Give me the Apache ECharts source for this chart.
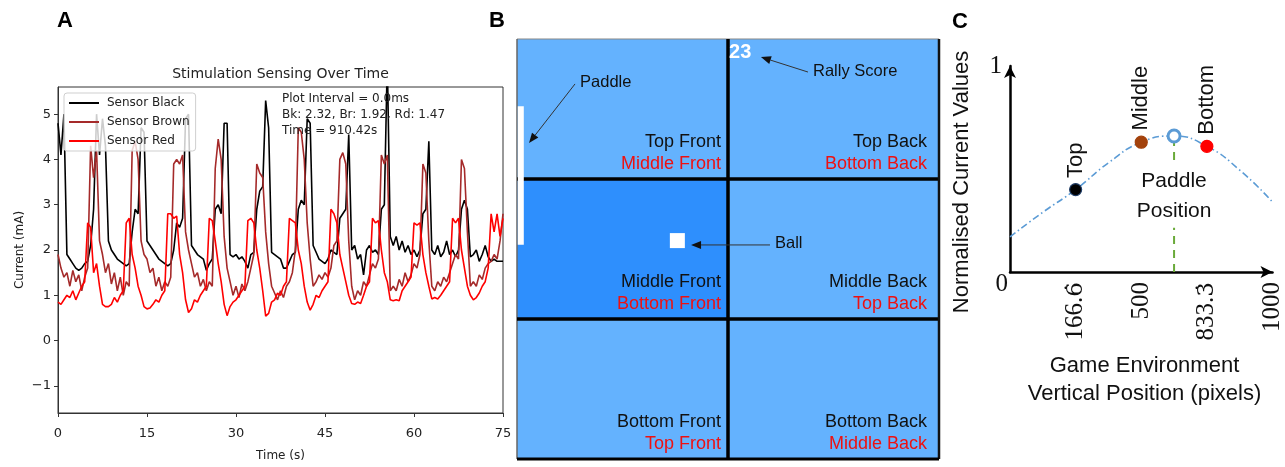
<!DOCTYPE html>
<html><head><meta charset="utf-8">
<script src="https://cdn.jsdelivr.net/npm/echarts@6/dist/echarts.min.js"></script>
<style>html,body{margin:0;padding:0;background:#fff}#c{width:1285px;height:467px}</style>
</head><body><div id="c"></div>
<script>
// ---------- Panel A data (sampled every 0.5 s, 0..75 s) ----------
const timeStep = 0.5;
const sensorBlack = [
 4.8,4.1,5.0,1.9,1.8,1.7,1.6,1.55,1.6,1.7,
 1.75,2.1,2.9,5.0,4.1,4.9,4.3,2.2,2.0,1.9,
 1.8,1.75,1.7,1.65,1.7,2.4,2.9,2.8,4.7,4.6,
 2.2,2.1,2.0,1.9,1.8,1.75,1.7,1.65,1.7,2.0,
 2.6,2.5,2.7,4.9,5.0,2.1,2.0,1.9,1.85,1.8,
 1.55,1.7,1.8,2.9,3.0,2.8,4.8,4.8,1.9,1.85,
 1.9,1.8,1.85,1.75,1.6,1.9,1.95,2.9,3.3,3.4,
 5.3,4.7,1.95,1.9,1.85,1.8,1.6,1.6,1.75,1.9,
 1.95,2.9,3.1,3.0,4.9,4.8,2.1,1.95,1.8,1.75,
 1.7,1.8,2.0,1.95,1.9,2.7,2.8,2.9,4.55,2.0,
 2.1,1.8,1.9,1.45,2.0,2.1,1.95,2.0,1.9,2.9,
 3.0,6.2,2.3,2.1,2.3,2.0,2.2,1.95,2.1,1.9,
 2.0,1.85,2.0,2.8,2.9,4.4,2.0,1.9,2.1,1.85,
 1.95,2.2,1.9,2.0,1.85,2.0,2.9,3.1,2.9,1.85,
 1.9,2.0,1.75,1.9,2.1,1.85,1.75,1.8,1.75,1.75,1.75
];
const sensorBrown = [
 1.9,1.6,1.4,1.5,1.2,1.55,1.3,1.45,1.1,1.4,
 1.6,4.3,3.6,4.2,2.2,1.9,1.5,1.7,1.25,1.5,
 1.1,1.4,1.0,1.3,1.2,4.2,4.4,4.0,2.2,1.9,
 1.8,1.5,1.6,1.2,1.4,1.1,1.3,1.2,1.4,3.9,
 4.0,3.9,4.1,2.4,2.0,1.7,1.4,1.5,1.2,1.35,
 1.1,1.3,1.2,3.8,4.45,4.0,2.3,1.6,1.3,1.0,
 1.2,0.95,1.25,1.1,1.3,1.6,1.9,3.9,3.7,3.6,
 2.4,1.7,1.2,1.05,0.9,1.1,0.95,1.2,1.3,1.5,
 2.0,4.7,4.6,4.0,2.6,1.8,1.2,1.3,1.45,1.35,
 1.5,1.4,1.6,2.1,2.2,4.0,4.15,3.9,2.2,1.2,
 0.9,1.1,1.0,1.3,1.2,1.45,1.7,1.6,1.8,4.1,
 3.9,4.1,1.1,1.2,1.1,1.35,1.2,1.5,1.3,1.45,
 1.7,1.6,1.9,3.9,3.7,2.2,1.2,1.1,1.3,1.2,
 1.4,1.3,1.5,1.7,1.9,1.8,4.0,3.8,2.4,1.2,
 1.3,1.2,1.45,1.35,1.6,1.7,1.75,1.9,1.8,2.2,2.8
];
const sensorRed = [
 0.85,0.8,0.9,1.0,0.95,1.1,0.9,1.05,1.2,1.3,
 2.6,2.5,1.5,1.7,1.2,0.8,0.75,0.75,0.8,0.95,
 0.85,1.0,1.1,2.6,2.7,1.9,1.6,1.2,1.0,0.75,
 0.7,0.72,0.8,0.9,0.85,1.0,1.1,2.8,2.8,2.7,
 2.75,1.9,1.5,0.9,0.62,0.7,0.9,0.85,1.0,1.1,
 1.2,2.7,2.65,2.2,1.7,1.3,0.8,0.55,0.75,0.85,
 0.9,1.0,1.1,1.2,2.65,2.7,2.6,2.0,1.6,1.1,
 0.54,0.6,0.85,0.9,1.05,1.0,1.2,1.3,2.7,2.65,
 2.6,2.0,1.7,1.2,0.85,0.67,0.8,1.0,0.95,1.1,
 1.2,1.3,2.9,2.8,2.6,1.9,1.6,1.3,1.0,0.82,
 0.8,0.85,0.82,1.0,1.2,1.3,2.7,2.6,2.65,2.0,
 1.5,1.3,0.9,0.88,0.9,0.88,1.1,1.2,1.3,1.4,
 2.6,2.55,2.6,1.9,1.5,1.2,0.92,0.95,0.92,1.0,
 1.1,1.2,1.3,2.7,2.6,2.7,2.0,1.6,1.2,1.0,
 0.9,0.95,1.05,1.2,1.3,1.6,2.8,2.4,2.8,2.3,2.7
];
const seriesNamesA = ['Sensor Black', 'Sensor Brown', 'Sensor Red'];
const yTicksA = [-1, 0, 1, 2, 3, 4, 5];
const infoLines = ['Plot Interval = 0.0ms', 'Bk: 2.32, Br: 1.92, Rd: 1.47', 'Time = 910.42s'];

// ---------- Panel B data (cells: 2 columns x 3 rows) ----------
const cellBlackLabels = ['Top Front', 'Top Back', 'Middle Front', 'Middle Back', 'Bottom Front', 'Bottom Back'];
const cellRedLabels = ['Middle Front', 'Bottom Back', 'Bottom Front', 'Top Back', 'Top Front', 'Middle Back'];
const activeCell = 2;
const ballPos = [0.76, 1.44];
const paddleSpan = [0.48, 1.47];
const rallyScore = '23';
const scorePos = [1.005, 0.093];
const annotLabels = ['Paddle', 'Rally Score', 'Ball'];
const annotFrom = [[0.275, 0.321], [1.379, 0.236], [1.199, 1.471]];
const annotTo = [[0.057, 0.743], [1.156, 0.129], [0.825, 1.471]];

// ---------- Panel C data ----------
const cTickLabels = ['0', '166.6', '500', '833.3', '1000'];
const cTickRepeating = [false, true, false, true, false];
const cPointNames = ['Top', 'Middle', 'Bottom'];
const cPointX = [1, 2, 3];
const cPointY = [0.40, 0.63, 0.61];
const cPaddle = [2.5, 0.66];
const curveX = [0, 0.5, 1, 1.5, 2, 2.5, 3, 3.5, 4];
const curveY = [0.17, 0.29, 0.40, 0.53, 0.63, 0.66, 0.61, 0.495, 0.34];

// ---------- build ----------
const chart = echarts.init(document.getElementById('c'), null, {renderer: 'canvas', width: 1285, height: 467});
const timesA = sensorBlack.map((_, i) => i * timeStep);
const pairA = arr => arr.map((v, i) => [timesA[i], v]);
const FA = 'DejaVu Sans';
const FB = 'Liberation Sans';
const lightBlue = '#64b2fe', darkBlue = '#2e8ffd';
const pointColors = ['#000000', '#a3420c', '#ff0000'];
const serif = {fontFamily: 'Liberation Serif', fontSize: 25, color: '#111'};

const option = {
  animation: false,
  backgroundColor: '#fff',
  grid: [
    {left: 58, top: 87, width: 445, height: 331, show: true, borderColor: '#333', borderWidth: 1, backgroundColor: 'transparent'},
    {left: 517, top: 39, width: 422, height: 420},
    {left: 1010, top: 66, width: 268, height: 206}
  ],
  xAxis: [
    {gridIndex: 0, type: 'value', min: 0, max: 75, interval: 15,
     axisLine: {show: true, onZero: false, lineStyle: {color: '#333', width: 1}},
     axisTick: {show: true, length: 4, lineStyle: {color: '#333'}},
     axisLabel: {fontFamily: FA, fontSize: 13, color: '#222', margin: 14},
     splitLine: {show: false},
     name: 'Time (s)', nameLocation: 'middle', nameGap: 37,
     nameTextStyle: {fontFamily: FA, fontSize: 12, color: '#222'}},
    {gridIndex: 1, type: 'value', min: 0, max: 2, show: false},
    {gridIndex: 2, type: 'value', min: 0, max: 4, interval: 1,
     axisLine: {show: true, onZero: false, lineStyle: {color: '#000', width: 2.5}, symbol: ['none', 'arrow'], symbolSize: [9, 12]},
     axisTick: {show: false}, splitLine: {show: false},
     axisLabel: Object.assign({rotate: 90, margin: 10, showMaxLabel: true,
       formatter: v => {
         if (v === 0) return '';
         const s = cTickLabels[v];
         if (!cTickRepeating[v]) return '{n|' + s + '}';
         return '{n|' + s.slice(0, -1) + '}{d|' + s.slice(-1) + '\u0307}';
       },
       rich: {n: serif, d: {fontFamily: 'DejaVu Serif', fontSize: 23, color: '#111'}}}, serif)}
  ],
  yAxis: [
    {gridIndex: 0, type: 'value', min: -1.6, max: 5.6,
     axisLine: {show: true, onZero: false, lineStyle: {color: '#333', width: 1}},
     axisTick: {show: true, length: 4, lineStyle: {color: '#333'}, customValues: yTicksA},
     axisLabel: {fontFamily: FA, fontSize: 13, color: '#222', margin: 7, customValues: yTicksA,
       formatter: v => (v < 0 ? '\u2212' + Math.abs(v) : String(v))},
     splitLine: {show: false},
     name: 'Current (mA)', nameLocation: 'middle', nameGap: 32,
     nameTextStyle: {fontFamily: FA, fontSize: 12, color: '#222'}},
    {gridIndex: 1, type: 'value', min: 0, max: 3, inverse: true, show: false},
    {gridIndex: 2, type: 'value', min: 0, max: 1, interval: 1,
     axisLine: {show: true, onZero: false, lineStyle: {color: '#000', width: 2.5}, symbol: ['none', 'arrow'], symbolSize: [9, 12]},
     axisTick: {show: false}, splitLine: {show: false},
     axisLabel: Object.assign({margin: 2,
       formatter: v => (v === 0 ? '{lo|0}' : '{hi|1}'),
       rich: {lo: Object.assign({padding: [24, 0, 0, 0]}, serif), hi: Object.assign({padding: [0, 6, 0, 0]}, serif)}}, serif)}
  ],
  legend: {
    data: seriesNamesA, left: 64, top: 93, orient: 'vertical',
    icon: 'rect', itemWidth: 30, itemHeight: 2, itemGap: 7,
    textStyle: {fontFamily: FA, fontSize: 12, color: '#222', padding: [0, 0, 0, 3]},
    backgroundColor: 'rgba(255,255,255,0.8)', borderColor: '#cfcfcf', borderWidth: 1, borderRadius: 3,
    padding: [4, 6, 4, 5]
  },
  graphic: [
    {type: 'text', x: 57, y: 21, style: {text: 'A', font: 'bold 22px "Liberation Sans"', fill: '#000', verticalAlign: 'middle'}},
    {type: 'text', x: 489, y: 21, style: {text: 'B', font: 'bold 22px "Liberation Sans"', fill: '#000', verticalAlign: 'middle'}},
    {type: 'text', x: 952, y: 22, style: {text: 'C', font: 'bold 22px "Liberation Sans"', fill: '#000', verticalAlign: 'middle'}},
    {type: 'text', x: 280.5, y: 74, style: {text: 'Stimulation Sensing Over Time', font: '14px "DejaVu Sans"', fill: '#222', align: 'center', verticalAlign: 'middle'}},
    {type: 'text', x: 282, y: 91, z: 100, style: {text: infoLines.join('\n'), font: '12px "DejaVu Sans"', lineHeight: 16, fill: '#222', verticalAlign: 'top'}},
    {type: 'text', x: 962, y: 182, rotation: Math.PI / 2, style: {text: 'Normalised Current Values', font: '22px "Liberation Sans"', fill: '#111', align: 'center', verticalAlign: 'middle'}},
    {type: 'text', x: 1144.5, y: 380, style: {text: 'Game Environment\nVertical Position (pixels)', font: '22px "Liberation Sans"', lineHeight: 28, fill: '#111', align: 'center', verticalAlign: 'middle'}}
  ],
  series: [
    // Panel A
    {name: seriesNamesA[0], type: 'line', xAxisIndex: 0, yAxisIndex: 0, data: pairA(sensorBlack), symbol: 'none', lineStyle: {color: '#000', width: 1.6}, itemStyle: {color: '#000'}},
    {name: seriesNamesA[1], type: 'line', xAxisIndex: 0, yAxisIndex: 0, data: pairA(sensorBrown), symbol: 'none', lineStyle: {color: '#a52a2a', width: 1.6}, itemStyle: {color: '#a52a2a'}},
    {name: seriesNamesA[2], type: 'line', xAxisIndex: 0, yAxisIndex: 0, data: pairA(sensorRed), symbol: 'none', lineStyle: {color: '#ff0000', width: 1.6}, itemStyle: {color: '#ff0000'}},
    // Panel B cells
    {type: 'custom', xAxisIndex: 1, yAxisIndex: 1, z: 1,
     data: cellBlackLabels.map((_, i) => [i % 2, Math.floor(i / 2)]),
     renderItem: (params, api) => {
       const c = api.value(0), r = api.value(1), i = params.dataIndex;
       const p0 = api.coord([c, r]), p1 = api.coord([c + 1, r + 1]);
       const w = p1[0] - p0[0], h = p1[1] - p0[1];
       const tx = p1[0] - (c === 0 ? 7 : 12);
       return {type: 'group', children: [
         {type: 'rect', shape: {x: p0[0], y: p0[1], width: w, height: h}, style: {fill: i === activeCell ? darkBlue : lightBlue}},
         {type: 'text', style: {text: cellBlackLabels[i], x: tx, y: p0[1] + 103, align: 'right', verticalAlign: 'middle', fill: '#111', font: '18px "Liberation Sans"'}},
         {type: 'text', style: {text: cellRedLabels[i], x: tx, y: p0[1] + 125, align: 'right', verticalAlign: 'middle', fill: '#ee1111', font: '18px "Liberation Sans"'}}
       ]};
     }},
    // Panel B grid lines
    {type: 'custom', xAxisIndex: 1, yAxisIndex: 1, z: 3, data: [[0, 0]],
     renderItem: (params, api) => {
       const P = (x, y) => api.coord([x, y]);
       const seg = (a, b, w, col) => ({type: 'line', shape: {x1: a[0], y1: a[1], x2: b[0], y2: b[1]}, style: {stroke: col, lineWidth: w}});
       return {type: 'group', children: [
         seg(P(0, 0), P(2, 0), 1.2, '#888'),
         seg(P(0, 0), P(0, 3), 1.5, '#666'),
         seg(P(1, 0), P(1, 3), 3.5, '#000'),
         seg(P(0, 1), P(2, 1), 3.5, '#000'),
         seg(P(0, 2), P(2, 2), 3.5, '#000'),
         seg(P(2, 0), P(2, 3), 2.5, '#111'),
         seg(P(0, 3), P(2, 3), 3, '#000')
       ]};
     }},
    // Paddle
    {type: 'custom', xAxisIndex: 1, yAxisIndex: 1, z: 4, data: [[0, paddleSpan[0], paddleSpan[1]]],
     renderItem: (params, api) => {
       const a = api.coord([0, api.value(1)]), b = api.coord([0, api.value(2)]);
       return {type: 'rect', shape: {x: a[0] + 0.8, y: a[1], width: 6, height: b[1] - a[1]}, style: {fill: '#fff'}};
     }},
    // Ball
    {type: 'scatter', xAxisIndex: 1, yAxisIndex: 1, z: 5, data: [ballPos], symbol: 'rect', symbolSize: 15, itemStyle: {color: '#fff', opacity: 1}, silent: true},
    // Score
    {type: 'custom', xAxisIndex: 1, yAxisIndex: 1, z: 6, data: [scorePos],
     renderItem: (params, api) => {
       const p = api.coord([api.value(0), api.value(1)]);
       return {type: 'text', style: {text: rallyScore, x: p[0], y: p[1], align: 'left', verticalAlign: 'middle', fill: '#fff', font: 'bold 20px "Liberation Sans"'}};
     }},
    // Annotations with arrows
    {type: 'custom', xAxisIndex: 1, yAxisIndex: 1, z: 6, data: annotFrom,
     renderItem: (params, api) => {
       const i = params.dataIndex;
       const a = api.coord(annotFrom[i]), b = api.coord(annotTo[i]);
       const ang = Math.atan2(b[1] - a[1], b[0] - a[0]);
       const L = 10, W = 4;
       const bx = b[0] - L * Math.cos(ang), by = b[1] - L * Math.sin(ang);
       return {type: 'group', children: [
         {type: 'line', shape: {x1: a[0], y1: a[1], x2: bx, y2: by}, style: {stroke: '#333', lineWidth: 1}},
         {type: 'polygon', shape: {points: [[b[0], b[1]], [bx + W * Math.sin(ang), by - W * Math.cos(ang)], [bx - W * Math.sin(ang), by + W * Math.cos(ang)]]}, style: {fill: '#111'}},
         {type: 'text', style: {text: annotLabels[i], x: a[0] + 5, y: a[1] - 1, align: 'left', verticalAlign: 'middle', fill: '#111', font: '16.5px "Liberation Sans"'}}
       ]};
     }},
    // Panel C
    {type: 'line', xAxisIndex: 2, yAxisIndex: 2, z: 2, data: [[cPaddle[0], 0], [cPaddle[0], cPaddle[1]]], symbol: 'none',
     lineStyle: {color: '#6aaa3a', width: 2, type: [8, 6]}},
    {type: 'line', xAxisIndex: 2, yAxisIndex: 2, z: 3, smooth: true, data: curveX.map((x, i) => [x, curveY[i]]), symbol: 'none',
     lineStyle: {color: '#5b9bd5', width: 1.6, type: [7, 3, 1.5, 3]}},
    {type: 'scatter', xAxisIndex: 2, yAxisIndex: 2, z: 4, data: [[cPaddle[0], 0.37]], symbolSize: 0, silent: true,
     itemStyle: {opacity: 1},
     label: {show: true, position: 'inside', formatter: 'Paddle\nPosition', fontFamily: FB, fontSize: 21, color: '#111', lineHeight: 30, backgroundColor: '#fff', padding: [2, 2]}},
    {type: 'scatter', xAxisIndex: 2, yAxisIndex: 2, z: 5, symbolSize: 12,
     data: cPointX.map((x, i) => ({value: [x, cPointY[i]], name: cPointNames[i],
       itemStyle: {color: pointColors[i], borderColor: i === 0 ? '#1f3c66' : pointColors[i], borderWidth: 1.2, opacity: 1}})),
     label: {show: true, position: 'top', distance: 5, rotate: 90, align: 'left', verticalAlign: 'middle',
       formatter: p => p.name, fontFamily: FB, fontSize: 22, color: '#111'}},
    {type: 'scatter', xAxisIndex: 2, yAxisIndex: 2, z: 6, data: [cPaddle], symbol: 'circle', symbolSize: 12,
     itemStyle: {color: '#fff', borderColor: '#5b9bd5', borderWidth: 3, opacity: 1}}
  ]
};
chart.setOption(option);
</script>
</body></html>
